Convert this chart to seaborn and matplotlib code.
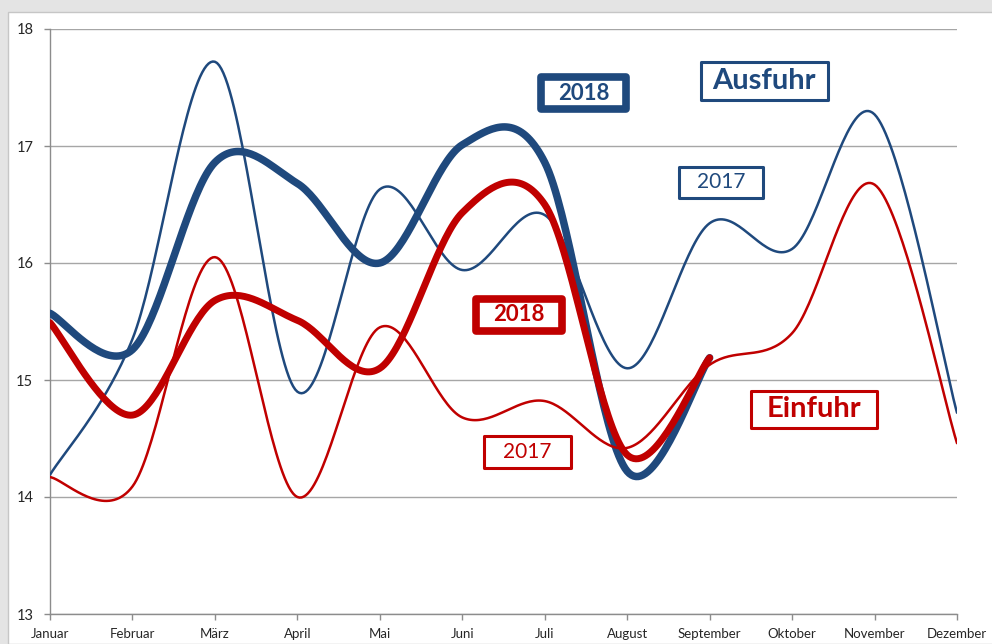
import numpy as np
import pandas as pd
import matplotlib
matplotlib.use("Agg")
import matplotlib.pyplot as plt
import seaborn as sns
from matplotlib.patches import Rectangle, FancyBboxPatch

# monthly values
months = ["Januar", "Februar", "März", "April", "Mai", "Juni", "Juli",
          "August", "September", "Oktober", "November", "Dezember"]
ausfuhr_2017 = [14.19, 15.35, 17.72, 14.90, 16.63, 15.94, 16.41, 15.10, 16.34, 16.12, 17.27, 14.72]
ausfuhr_2018 = [15.57, 15.26, 16.86, 16.68, 16.00, 17.01, 16.86, 14.22, 15.19]
einfuhr_2017 = [14.17, 14.09, 16.05, 14.00, 15.45, 14.68, 14.82, 14.42, 15.13, 15.40, 16.67, 14.46]
einfuhr_2018 = [15.49, 14.70, 15.68, 15.51, 15.10, 16.43, 16.50, 14.36, 15.19]

BLUE = "#1F497D"
RED = "#C00000"
W, H = 992, 644


def smooth(vals, n=40):
    # Excel-style smoothed line (cubic bezier, catmull-rom control points)
    x = np.arange(len(vals), dtype=float)
    y = np.asarray(vals, dtype=float)
    pts = np.column_stack([x, y])
    pts = np.vstack([pts[:1], pts, pts[-1:]])
    t = np.linspace(0, 1, n)[:, None]
    out = []
    for i in range(1, len(pts) - 2):
        p0, p1, p2, p3 = pts[i - 1], pts[i], pts[i + 1], pts[i + 2]
        c1 = p1 + (p2 - p0) / 6
        c2 = p2 - (p3 - p1) / 6
        seg = ((1 - t) ** 3) * p1 + 3 * ((1 - t) ** 2) * t * c1 + 3 * (1 - t) * t ** 2 * c2 + t ** 3 * p2
        out.append(seg if i == 1 else seg[1:])
    seg = np.vstack(out)
    return pd.DataFrame({"x": seg[:, 0], "y": seg[:, 1]})


sns.set_style("white")
plt.rcParams["font.family"] = ["Lato", "DejaVu Sans"]

fig = plt.figure(figsize=(W / 100, H / 100), dpi=100, facecolor="#E4E4E4")
fig.patches.append(Rectangle((8 / W, 0), 1, 1 - 12 / H, transform=fig.transFigure,
                             facecolor="white", edgecolor="#C6C6C6", linewidth=1, zorder=-5))

ax = fig.add_axes([50 / W, 30 / H, 907 / W, 585 / H])
ax.set_facecolor("none")

series = [
    (ausfuhr_2018, BLUE, 5.4),
    (ausfuhr_2017, BLUE, 1.8),
    (einfuhr_2018, RED, 5.0),
    (einfuhr_2017, RED, 1.8),
]
for vals, col, lw in series:
    sns.lineplot(data=smooth(vals), x="x", y="y", sort=False, estimator=None,
                 color=col, linewidth=lw, ax=ax, solid_capstyle="round", zorder=3)

ax.set_xlim(0, 11)
ax.set_ylim(13, 18)
ax.set_xticks(range(12))
ax.set_xticklabels(months)
ax.set_yticks(range(13, 19))
ax.set_xlabel("")
ax.set_ylabel("")
ax.grid(axis="y", color="#A6A6A6", linewidth=1)
ax.grid(axis="x", visible=False)
for s in ["top", "right"]:
    ax.spines[s].set_visible(False)
for s in ["left", "bottom"]:
    ax.spines[s].set_color("#8C8C8C")
    ax.spines[s].set_linewidth(1)
ax.tick_params(axis="x", length=4, width=1, color="#8C8C8C", pad=6, labelsize=9.5, direction="out", bottom=True)
ax.tick_params(axis="y", length=4, width=1, color="#8C8C8C", pad=8, labelsize=10.5, direction="out", left=True)


def label_box(cx, cy, w, h, text, color, lw, size, weight):
    fig.patches.append(FancyBboxPatch(((cx - w / 2) / W, 1 - (cy + h / 2) / H), w / W, h / H,
                                      boxstyle="square,pad=0", transform=fig.transFigure,
                                      facecolor="white", edgecolor=color, linewidth=lw,
                                      joinstyle="round", zorder=5))
    fig.text(cx / W, 1 - cy / H, text, color=color, fontsize=size, fontweight=weight,
             ha="center", va="center", zorder=6)


label_box(583.5, 93, 85, 32, "2018", BLUE, 5.5, 16, "bold")
label_box(764, 81, 127, 38, "Ausfuhr", BLUE, 2.2, 21, "bold")
label_box(721.3, 182.5, 84, 31, "2017", BLUE, 2.2, 15, "normal")
label_box(519, 315, 86.5, 32, "2018", RED, 5.5, 16, "bold")
label_box(527.5, 451.5, 87, 32, "2017", RED, 2.2, 15, "normal")
label_box(813.5, 409, 126, 37, "Einfuhr", RED, 2.2, 21, "bold")

fig.savefig("out.png", dpi=100, facecolor=fig.get_facecolor())
